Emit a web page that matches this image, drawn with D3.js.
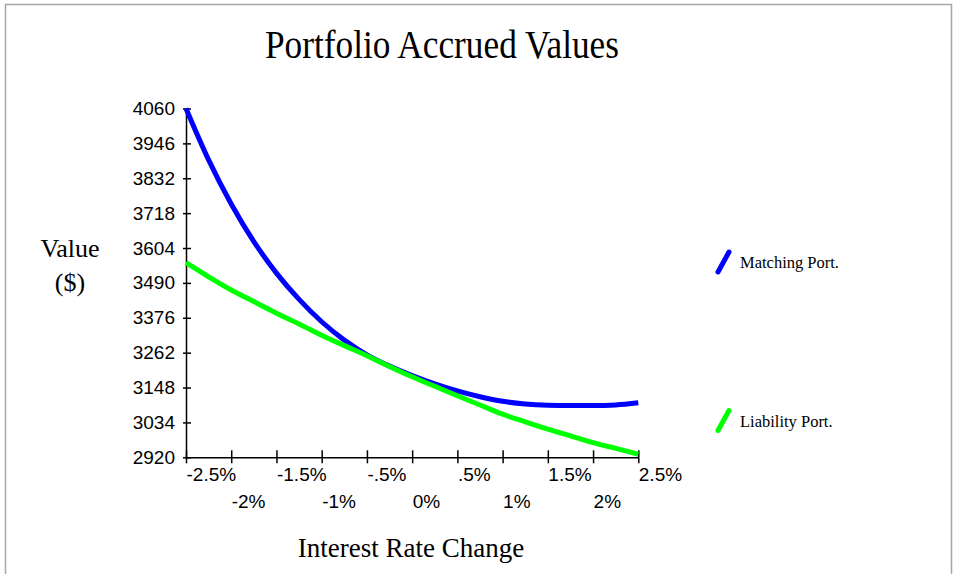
<!DOCTYPE html>
<html>
<head>
<meta charset="utf-8">
<script src="https://cdn.jsdelivr.net/npm/d3@7"></script>
<style>
  html, body { margin: 0; padding: 0; background: #fff; }
  svg { display: block; }
</style>
</head>
<body>
<div id="chart"></div>
<script>
// Interest rate change (%) and the accrued values
const rateSteps = [-2.5, -2.25, -2, -1.75, -1.5, -1.25, -1, -0.75, -0.5, -0.25, 0,
  0.25, 0.5, 0.75, 1, 1.25, 1.5, 1.75, 2, 2.25, 2.5];
const matchingValues = [4060, 3892, 3748, 3625, 3522, 3436, 3363, 3303, 3255, 3218, 3187,
  3160, 3137, 3118, 3103, 3094, 3090, 3089, 3089, 3091, 3098];
const liabilityValues = [3556, 3510, 3467, 3429, 3391, 3356, 3319, 3285, 3252, 3217, 3183,
  3152, 3121, 3091, 3061, 3036, 3012, 2990, 2968, 2949, 2930];

const xTicks = [-2.5, -2, -1.5, -1, -0.5, 0, 0.5, 1, 1.5, 2, 2.5];
const xTickLabels = ['-2.5%', '-2%', '-1.5%', '-1%', '-.5%', '0%', '.5%', '1%', '1.5%', '2%', '2.5%'];
const yTicks = [2920, 3034, 3148, 3262, 3376, 3490, 3604, 3718, 3832, 3946, 4060];

const seriesNames = ['Matching Port.', 'Liability Port.'];
const seriesColors = ['#0000ff', '#00ff00'];

const W = 956;
const H = 574;

let svg = d3
  .select('#chart')
  .append('svg')
  .attr('width', W)
  .attr('height', H);

// thin grey frame round the picture (bottom edge runs off the page)
svg
  .append('rect')
  .attr('x', 5.5)
  .attr('y', 4.5)
  .attr('width', 946)
  .attr('height', 620)
  .style('fill', 'none')
  .style('stroke', '#a6a6a6')
  .style('stroke-width', 1.5);

const x = d3.scaleLinear().domain([-2.5, 2.5]).range([186, 638.3]);
const y = d3.scaleLinear().domain([2920, 4060]).range([457.3, 108.5]);

const sans = 'Liberation Sans, Arial, sans-serif';
const serif = 'Liberation Serif, Times New Roman, serif';

// Title
svg
  .append('text')
  .attr('x', 442)
  .attr('y', 58)
  .attr('text-anchor', 'middle')
  .attr('textLength', 354)
  .attr('lengthAdjust', 'spacingAndGlyphs')
  .style('font-family', serif)
  .style('font-size', '39px')
  .text('Portfolio Accrued Values');

// Y axis: labels on the left, ticks cross the line
let yAxis = svg
  .append('g')
  .attr('transform', `translate(${x(-2.5)},0)`)
  .call(
    d3
      .axisLeft(y)
      .tickValues(yTicks)
      .tickSize(3)
      .tickPadding(8)
      .tickSizeOuter(0)
      .tickFormat(d3.format('d')),
  );

svg
  .append('g')
  .attr('transform', `translate(${x(-2.5)},0)`)
  .call(d3.axisRight(y).tickValues(yTicks).tickSize(5).tickFormat(''))
  .call((g) => g.select('.domain').remove());

yAxis
  .selectAll('text')
  .style('font-family', sans)
  .style('font-size', '19px')
  .style('fill', '#000');

// X axis: labels start at the tick, every other one on a second row
let xAxis = svg
  .append('g')
  .attr('transform', `translate(0,${y(2920)})`)
  .call(
    d3
      .axisBottom(x)
      .tickValues(xTicks)
      .tickSize(6)
      .tickSizeOuter(0)
      .tickFormat((d, i) => xTickLabels[i]),
  );

svg
  .append('g')
  .attr('transform', `translate(0,${y(2920)})`)
  .call(d3.axisTop(x).tickValues(xTicks).tickSize(7).tickFormat(''))
  .call((g) => g.select('.domain').remove());

xAxis
  .selectAll('text')
  .attr('text-anchor', 'start')
  .attr('y', (d, i) => (i % 2 === 0 ? 24 : 51))
  .attr('dy', 0)
  .style('font-family', sans)
  .style('font-size', '19px')
  .style('fill', '#000');

svg.selectAll('.domain, .tick line').style('stroke', '#000').style('stroke-width', 1.5);

// Axis titles
svg
  .append('text')
  .attr('x', 70)
  .attr('y', 257)
  .attr('text-anchor', 'middle')
  .style('font-family', serif)
  .style('font-size', '26px')
  .text('Value');

svg
  .append('text')
  .attr('x', 70)
  .attr('y', 291)
  .attr('text-anchor', 'middle')
  .style('font-family', serif)
  .style('font-size', '26px')
  .text('($)');

svg
  .append('text')
  .attr('x', 411)
  .attr('y', 557)
  .attr('text-anchor', 'middle')
  .style('font-family', serif)
  .style('font-size', '27px')
  .text('Interest Rate Change');

// Lines
const line = d3
  .line()
  .x((d) => x(d[0]))
  .y((d) => y(d[1]))
  .curve(d3.curveMonotoneX);

[matchingValues, liabilityValues].forEach((values, k) => {
  svg
    .append('path')
    .datum(rateSteps.map((r, i) => [r, values[i]]))
    .attr('d', line)
    .style('fill', 'none')
    .style('stroke', seriesColors[k])
    .style('stroke-width', 5)
    .style('stroke-linejoin', 'round');
});

// Legend: slanted stroke + label
const legendY = [268, 426.5];

seriesNames.forEach((name, k) => {
  let g = svg.append('g').attr('transform', `translate(0,${legendY[k]})`);

  g
    .append('line')
    .attr('x1', 718)
    .attr('y1', 4)
    .attr('x2', 729)
    .attr('y2', -16)
    .style('stroke', seriesColors[k])
    .style('stroke-width', 5)
    .style('stroke-linecap', 'round');

  g
    .append('text')
    .attr('x', 740)
    .attr('y', 0)
    .style('font-family', serif)
    .style('font-size', '16.5px')
    .text(name);
});
</script>
</body>
</html>
